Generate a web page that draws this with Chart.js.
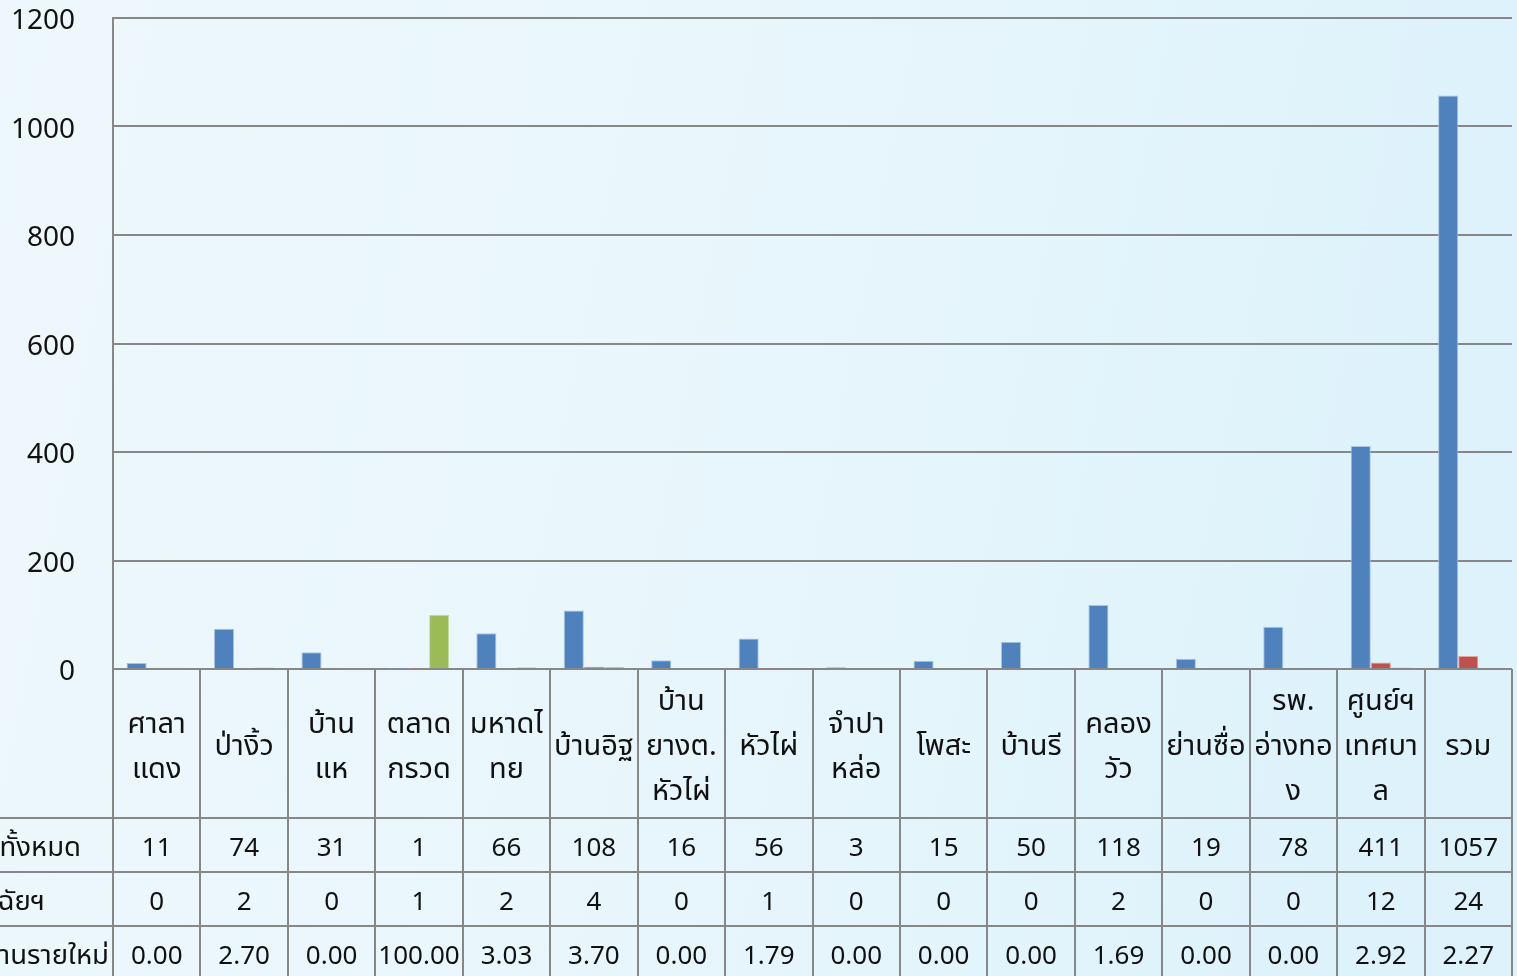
<!DOCTYPE html>
<html lang="th">
<head>
<meta charset="utf-8">
<title>ผู้ป่วยรายใหม่ แยกตามหน่วยบริการ</title>
<script src="https://cdn.jsdelivr.net/npm/chart.js@4.4.1/dist/chart.umd.min.js"></script>
<style>
  html, body { margin: 0; padding: 0; background: #eaf6fb; overflow: hidden; }
  #wrap { width: 1517px; height: 976px; }
</style>
</head>
<body>
<div id="wrap"><canvas id="chart" width="1517" height="976"></canvas></div>
<script>
// Service units (label lines as they wrap in the table header)
const categories = [
  ["ศาลา", "แดง"], ["ป่างิ้ว"], ["บ้าน", "แห"], ["ตลาด", "กรวด"], ["มหาดไ", "ทย"],
  ["บ้านอิฐ"], ["บ้าน", "ยางต.", "หัวไผ่"], ["หัวไผ่"], ["จำปา", "หล่อ"], ["โพสะ"],
  ["บ้านรี"], ["คลอง", "วัว"], ["ย่านซื่อ"], ["รพ.", "อ่างทอ", "ง"], ["ศูนย์ฯ", "เทศบา", "ล"], ["รวม"]
];

// Series names (row headers of the data table)
const seriesNames = [
  "จำนวนที่คัดกรองทั้งหมด",
  "ได้รับการวินิจฉัยฯ",
  "ร้อยละผู้ป่วยเบาหวานรายใหม่"
];

// Series values
const totals    = [11, 74, 31, 1, 66, 108, 16, 56, 3, 15, 50, 118, 19, 78, 411, 1057];
const diagnosed = [0, 2, 0, 1, 2, 4, 0, 1, 0, 0, 0, 2, 0, 0, 12, 24];
const percents  = [0.00, 2.70, 0.00, 100.00, 3.03, 3.70, 0.00, 1.79, 0.00, 0.00, 0.00, 1.69, 0.00, 0.00, 2.92, 2.27];

// Value axis ticks
const yTicks = [0, 200, 400, 600, 800, 1000, 1200];

const FONT = "'Noto Sans Thai', 'Leelawadee UI', 'Noto Sans', 'DejaVu Sans', sans-serif";
const TEXT = "#111111";
const LINE = "#878787";

// Page background: soft white-to-cyan wash
const backgroundPlugin = {
  id: "backgroundWash",
  beforeDraw(chart) {
    const { ctx, width, height } = chart;
    ctx.save();
    const g = ctx.createLinearGradient(0, 0, width, height * 0.3);
    g.addColorStop(0, "#eef8fc");
    g.addColorStop(0.5, "#e8f6fc");
    g.addColorStop(1, "#ddf2fb");
    ctx.fillStyle = g;
    ctx.fillRect(0, 0, width, height);
    ctx.restore();
  }
};

// Data table under the plot: category header row + one row per series
const dataTablePlugin = {
  id: "dataTable",
  afterDraw(chart) {
    const { ctx, chartArea } = chart;
    const xs = chart.scales.x;
    const n = categories.length;
    const colW = (chartArea.right - chartArea.left) / n;
    const top = chartArea.bottom;
    const headerH = 149;
    const rowH = 54;
    const rows = [
      totals.map(v => String(v)),
      diagnosed.map(v => String(v)),
      percents.map(v => v.toFixed(2))
    ];
    const labelRight = [81, 45, 109];

    ctx.save();
    ctx.strokeStyle = LINE;
    ctx.lineWidth = 2;

    // vertical column separators
    for (let i = 0; i <= n; i++) {
      const x = Math.round(chartArea.left + i * colW);
      ctx.beginPath();
      ctx.moveTo(x, top);
      ctx.lineTo(x, chart.height);
      ctx.stroke();
    }
    // horizontal row separators
    for (let r = 0; r < rows.length; r++) {
      const y = top + headerH + r * rowH;
      ctx.beginPath();
      ctx.moveTo(0, y);
      ctx.lineTo(chartArea.right, y);
      ctx.stroke();
    }

    ctx.fillStyle = TEXT;
    ctx.textAlign = "center";
    ctx.textBaseline = "middle";

    // category header
    ctx.font = "29px " + FONT;
    const lineH = 45;
    categories.forEach((lines, i) => {
      const cx = xs.getPixelForValue(i);
      const cy = top + headerH / 2 + 6;
      const y0 = cy - (lines.length - 1) * lineH / 2;
      lines.forEach((t, k) => ctx.fillText(t, cx, y0 + k * lineH));
    });

    // values
    ctx.font = "26px " + FONT;
    rows.forEach((vals, r) => {
      const cy = top + headerH + r * rowH + rowH / 2 + 6;
      vals.forEach((t, i) => ctx.fillText(t, xs.getPixelForValue(i), cy));
    });

    // row headers
    ctx.font = "27.5px " + FONT;
    ctx.textAlign = "right";
    seriesNames.forEach((t, r) => {
      const cy = top + headerH + r * rowH + rowH / 2 + 5;
      ctx.fillText(t, labelRight[r], cy);
    });
    ctx.restore();
  }
};

new Chart(document.getElementById("chart"), {
  type: "bar",
  data: {
    labels: categories.map(l => l.join("")),
    datasets: [
      { label: seriesNames[0], data: totals,    backgroundColor: "#4f81bd", borderColor: "#a9c4e6", borderWidth: 1 },
      { label: seriesNames[1], data: diagnosed, backgroundColor: "#c0504d", borderColor: "#e3a3a1", borderWidth: 1 },
      { label: seriesNames[2], data: percents,  backgroundColor: "#9bbb59", borderColor: "#c9dca4", borderWidth: 1 }
    ]
  },
  options: {
    responsive: false,
    animation: false,
    layout: { padding: { left: 0, right: 5, top: 18, bottom: 307 } },
    datasets: { bar: { categoryPercentage: 0.69, barPercentage: 1.0 } },
    plugins: {
      legend: { display: false },
      tooltip: { enabled: false }
    },
    scales: {
      x: {
        display: false,
        grid: { display: false }
      },
      y: {
        min: yTicks[0],
        max: yTicks[yTicks.length - 1],
        afterBuildTicks(scale) { scale.ticks = yTicks.map(v => ({ value: v })); },
        afterFit(scale) { scale.width = 113; },
        ticks: {
          padding: 0,
          color: TEXT,
          font: { family: FONT, size: 28, lineHeight: "11px" },
          // empty first line nudges the number down to sit centred on its gridline
          callback: v => ["", String(v)]
        },
        grid: { color: LINE, lineWidth: 2, drawTicks: true, tickLength: 38, tickColor: "rgba(0,0,0,0)" },
        border: { display: true, color: LINE, width: 2 }
      }
    }
  },
  plugins: [backgroundPlugin, dataTablePlugin]
});
</script>
</body>
</html>
